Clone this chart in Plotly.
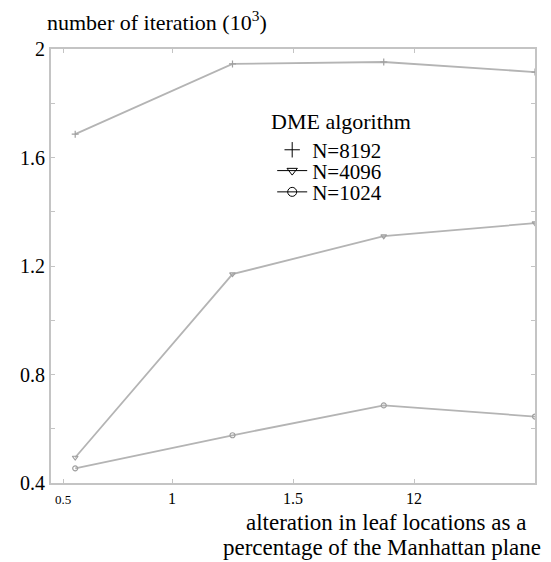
import plotly.graph_objects as go

# ---- data ----
x_vals = [0.6, 1.25, 1.875, 2.5]
n8192 = [1.686, 1.945, 1.952, 1.915]
n4096 = [0.494, 1.170, 1.310, 1.358]
n1024 = [0.454, 0.576, 0.686, 0.645]
series = [("N=8192", n8192, "cross-thin-open"),
          ("N=4096", n4096, "triangle-down-open"),
          ("N=1024", n1024, "circle-open")]

y_tickvals = [0.4, 0.6, 0.8, 1.0, 1.2, 1.4, 1.6, 1.8, 2.0]
y_ticktext = ["0.4", "", "0.8", "", "1.2", "", "1.6", "", "2"]
x_tickvals = [0.55, 1, 1.5, 2]
x_ticktext = ["<span style='font-size:13px'>0.5</span>", "1", "1.5", "12"]
x_title_lines = ["alteration in leaf locations as a", "percentage of the Manhattan plane"]

FONT = "Liberation Serif, Times New Roman, serif"
GRAY = "#b4b4b4"
FRAME = "#c4c4c4"

fig = go.Figure()

# plotted series (gray)
for name, ys, sym in series:
    fig.add_trace(go.Scatter(
        x=x_vals, y=ys, mode="lines+markers", name=name, showlegend=False,
        line=dict(color=GRAY, width=1.8),
        marker=dict(symbol=sym, size=5, color="#a0a0a0", line=dict(width=1.2, color="#a0a0a0")),
    ))

# legend entries (black), one legend per row
legend_ids = ["legend", "legend2", "legend3"]
modes = ["markers", "lines+markers", "lines+markers"]
sizes = [11, 9, 9]
for (name, ys, sym), lid, md, sz in zip(series, legend_ids, modes, sizes):
    fig.add_trace(go.Scatter(
        x=[None], y=[None], mode=md, name=name, legend=lid, showlegend=True,
        line=dict(color="black", width=1),
        marker=dict(symbol=sym, size=sz, color="black", line=dict(width=1, color="black")),
    ))

row_y = [0.767, 0.719, 0.670]
leg_common = dict(font=dict(family=FONT, size=21, color="black"),
                  bgcolor="rgba(0,0,0,0)", borderwidth=0,
                  xanchor="left", yanchor="middle", itemwidth=30,
                  x=0.457)
fig.update_layout(
    legend=dict(y=row_y[0], **leg_common),
    legend2=dict(y=row_y[1], **leg_common),
    legend3=dict(y=row_y[2], **leg_common),
)

annotations = [
    dict(text="number of iteration (10<sup>3</sup>)", xref="paper", yref="paper",
         x=0.0, y=1.0, xanchor="left", yanchor="bottom", yshift=12, xshift=-6,
         showarrow=False, font=dict(family=FONT, size=22, color="black")),
    dict(text="DME algorithm", xref="paper", yref="paper", x=0.451, y=0.832,
         xanchor="left", yanchor="middle", showarrow=False,
         font=dict(family=FONT, size=22, color="black")),
]
for txt, xp, yp in zip(x_title_lines, [0.692, 0.683], [-0.090, -0.1475]):
    annotations.append(dict(text=txt, xref="paper", yref="paper", x=xp, y=yp,
                            xanchor="center", yanchor="middle", showarrow=False,
                            font=dict(family=FONT, size=23, color="black")))

# page body has an 8px margin, so the figure is sized to fit the window
fig.update_layout(
    width=543, height=554,
    margin=dict(l=43, r=16, t=41, b=79),
    paper_bgcolor="white", plot_bgcolor="white",
    font=dict(family=FONT, color="black"),
    xaxis=dict(range=[0.5, 2.5], tickvals=x_tickvals, ticktext=x_ticktext,
               showgrid=False, zeroline=False, showline=True, linecolor=FRAME,
               linewidth=2, mirror="ticks", ticks="inside", ticklen=4,
               tickcolor=FRAME, tickfont=dict(family=FONT, size=16, color="black")),
    yaxis=dict(range=[0.4, 2.0], tickvals=y_tickvals, ticktext=y_ticktext,
               showgrid=False, zeroline=False, showline=True, linecolor=FRAME,
               linewidth=2, mirror="ticks", ticks="inside", ticklen=4,
               tickcolor=FRAME, tickfont=dict(family=FONT, size=20, color="black")),
    annotations=annotations,
)

fig.write_html("out.html")
